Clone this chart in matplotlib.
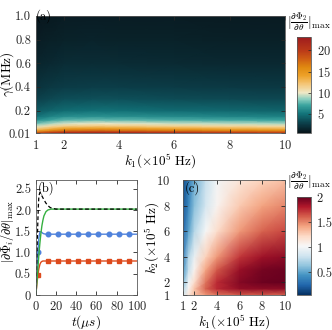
import numpy as np
import matplotlib
matplotlib.use('Agg')
import matplotlib.pyplot as plt
from matplotlib.colors import LinearSegmentedColormap

plt.rcParams['font.family'] = 'cmr10'
plt.rcParams['mathtext.fontset'] = 'cm'
plt.rcParams['axes.formatter.use_mathtext'] = True

# ---- panel (a) data: |dPhi2/dtheta|_max over (k1, gamma)
a_k1 = [1, 1.5, 2, 3, 4, 6, 8, 10]
a_gamma = [0.01, 0.02, 0.035, 0.05, 0.07, 0.09, 0.12, 0.15, 0.2, 0.3, 0.4, 0.6, 0.8, 1.0]
a_vals = [
    [21.0, 22.0, 22.7, 23.0, 23.0, 22.5, 22.0, 21.5],
    [17.0, 18.8, 19.9, 20.5, 20.3, 19.5, 18.9, 18.5],
    [13.6, 15.3, 16.5, 17.0, 16.8, 16.2, 15.6, 15.3],
    [11.6, 13.0, 14.1, 14.5, 14.4, 13.8, 13.3, 13.0],
    [9.6, 10.8, 11.6, 12.0, 11.9, 11.4, 11.0, 10.8],
    [8.0, 9.0, 9.7, 10.0, 9.9, 9.5, 9.2, 9.0],
    [6.2, 7.0, 7.6, 7.8, 7.7, 7.4, 7.2, 7.0],
    [5.0, 5.7, 6.1, 6.3, 6.2, 6.0, 5.8, 5.7],
    [3.9, 4.4, 4.75, 4.9, 4.85, 4.65, 4.5, 4.4],
    [2.8, 3.1, 3.4, 3.5, 3.45, 3.3, 3.2, 3.15],
    [2.1, 2.4, 2.6, 2.7, 2.65, 2.55, 2.5, 2.45],
    [1.4, 1.6, 1.75, 1.8, 1.78, 1.7, 1.65, 1.62],
    [1.0, 1.15, 1.25, 1.3, 1.28, 1.23, 1.2, 1.17],
    [0.7, 0.85, 0.95, 1.0, 0.98, 0.95, 0.92, 0.9],
]

# ---- panel (b) data: time traces
t_black = [0, 0.5, 1, 1.5, 2, 2.5, 3, 4, 5, 6, 8, 10, 12, 14, 16, 18, 20, 100]
y_black = [0, 0.45, 0.9, 1.35, 1.75, 2.1, 2.33, 2.41, 2.38, 2.33, 2.24, 2.16, 2.1, 2.06, 2.04, 2.03, 2.02, 2.02]
t_curve = [0, 1, 2, 3, 4, 5, 6, 7, 8, 10, 12, 15, 20, 100]
y_green = [0, 0.3, 0.62, 0.95, 1.22, 1.45, 1.63, 1.76, 1.86, 1.96, 2.0, 2.02, 2.02, 2.02]
y_blue = [0, 0.55, 1.0, 1.35, 1.48, 1.49, 1.47, 1.45, 1.44, 1.43, 1.43, 1.43, 1.43, 1.43]
y_red = [0, 0.25, 0.47, 0.62, 0.72, 0.77, 0.79, 0.8, 0.8, 0.8, 0.8, 0.8, 0.8, 0.8]
t_mark = [2, 12, 22, 32, 42, 52, 62, 72, 82, 92]
blue_mark = [1.0, 1.43, 1.43, 1.43, 1.43, 1.43, 1.43, 1.43, 1.43, 1.43]
red_mark = [0.47, 0.8, 0.8, 0.8, 0.8, 0.8, 0.8, 0.8, 0.8, 0.8]

# ---- panel (c) data: |dPhi2/dtheta|_max over (k1, k2)
c_k1 = [1, 1.5, 2, 3, 4, 6, 8, 10]
c_k2 = [1, 1.5, 2, 3, 4, 6, 8, 10]
c_vals = [
    [0.85, 1.15, 1.3, 1.45, 1.55, 1.62, 1.62, 1.6],
    [0.75, 1.05, 1.3, 1.6, 1.75, 1.88, 1.9, 1.9],
    [0.6, 1.0, 1.2, 1.55, 1.75, 1.92, 1.98, 2.0],
    [0.45, 0.8, 1.05, 1.4, 1.62, 1.87, 1.96, 1.98],
    [0.35, 0.75, 0.95, 1.25, 1.45, 1.72, 1.85, 1.9],
    [0.25, 0.5, 0.75, 1.02, 1.2, 1.45, 1.6, 1.68],
    [0.2, 0.4, 0.62, 0.85, 1.05, 1.28, 1.42, 1.5],
    [0.15, 0.35, 0.55, 0.8, 1.0, 1.15, 1.25, 1.32],
]

# colormap of panel (a)
a_lo, a_hi = 0.5, 23.2
nodes = [(0.5, '#08141a'), (2.5, '#0b3a45'), (5, '#127379'), (7, '#3aa39e'),
         (8.5, '#8ccfc0'), (10, '#efe8c6'), (12, '#f4c77a'), (14, '#eea22a'),
         (16, '#e08a10'), (18, '#cf5e14'), (20, '#bb3a18'), (23.2, '#9e1b1e')]
cmap_a = LinearSegmentedColormap.from_list(
    'a', [((v - a_lo) / (a_hi - a_lo), c) for v, c in nodes])

spine_c = '0.35'
cb_label = r'$|\frac{\partial\Phi_2}{\partial\theta}|_{\max}$'
TICK = 9
LAB = 9.5


def style(ax, ypad, xpad=4.5):
    ax.tick_params(direction='in', length=3, width=0.6, top=True, right=True,
                   labelsize=TICK, colors='0.15')
    ax.tick_params(axis='x', pad=xpad)
    ax.tick_params(axis='y', pad=ypad)
    for s in ax.spines.values():
        s.set_color(spine_c)
        s.set_linewidth(0.6)


def style_cb(cb):
    cb.ax.tick_params(direction='in', length=2, width=0.5, labelsize=TICK,
                      colors='0.15', pad=4)
    cb.outline.set_edgecolor(spine_c)
    cb.outline.set_linewidth(0.6)


fig = plt.figure(figsize=(3.32, 3.30), dpi=100)

# ---------- (a)
ax = fig.add_axes([0.108, 0.597, 0.750, 0.355])
X, Y = np.meshgrid(a_k1, a_gamma)
pm = ax.pcolormesh(X, Y, np.array(a_vals), cmap=cmap_a, vmin=a_lo, vmax=a_hi,
                   shading='gouraud', rasterized=True)
ax.set_xlim(1, 10)
ax.set_ylim(0.01, 1.0)
ax.set_xticks([1, 2, 4, 6, 8, 10])
ax.set_yticks([0.01, 0.2, 0.4, 0.6, 0.8, 1.0])
ax.set_yticklabels(['0.01', '0.2', '0.4', '0.6', '0.8', '1.0'])
style(ax, 3.5)
ax.set_xlabel(r'$k_1(\times10^5\ \mathrm{Hz})$', fontsize=LAB)
ax.xaxis.set_label_coords(0.5, -0.155)
ax.set_ylabel(r'$\gamma(\mathrm{MHz})$', fontsize=LAB)
ax.yaxis.set_label_coords(-0.078, 0.5)
ax.text(0.0, 1.0, '(a)', transform=ax.transAxes, fontsize=9, va='center', ha='left')

cax = fig.add_axes([0.895, 0.597, 0.042, 0.291])
cb = fig.colorbar(pm, cax=cax)
cb.set_ticks([5, 10, 15, 20])
style_cb(cb)
fig.text(0.864, 0.935, cb_label, fontsize=9.5, ha='left', va='center')

# ---------- (b)
ax = fig.add_axes([0.108, 0.106, 0.304, 0.348])
ax.plot(t_curve, y_red, color='#dd4a1c', lw=1)
ax.plot(t_mark, red_mark, ls='none', marker='s', ms=3, color='#dd4a1c')
ax.plot(t_curve, y_blue, color='#4f82dc', lw=1)
ax.plot(t_mark, blue_mark, ls='none', marker='o', ms=3.3, color='#4f82dc')
ax.plot(t_curve, y_green, color='#35b040', lw=1)
ax.plot(t_black, y_black, color='k', lw=0.9, ls=(0, (3, 2)))
ax.set_xlim(0, 100)
ax.set_ylim(0, 2.7)
ax.set_xticks([0, 20, 40, 60, 80, 100])
ax.set_yticks([0, 0.5, 1.0, 1.5, 2.0, 2.5])
ax.set_yticklabels(['0', '0.5', '1.0', '1.5', '2.0', '2.5'])
style(ax, 3.5, 3.5)
ax.set_xlabel(r'$t(\mu s)$', fontsize=LAB)
ax.xaxis.set_label_coords(0.5, -0.155)
ax.set_ylabel(r'$|\partial\Phi_i/\partial\theta|_{\max}$', fontsize=9)
ax.yaxis.set_label_coords(-0.198, 0.55)
ax.text(0.02, 0.99, '(b)', transform=ax.transAxes, fontsize=9, va='top', ha='left')

# ---------- (c)
ax = fig.add_axes([0.551, 0.106, 0.307, 0.348])
X, Y = np.meshgrid(c_k1, c_k2)
pm = ax.pcolormesh(X, Y, np.array(c_vals), cmap='RdBu_r', vmin=0.05, vmax=2.0,
                   shading='gouraud', rasterized=True)
ax.set_xlim(1, 10)
ax.set_ylim(1, 10)
ax.set_xticks([1, 2, 4, 6, 8, 10])
ax.set_yticks([1, 2, 4, 6, 8, 10])
style(ax, 9, 3.5)
ax.set_xlabel(r'$k_1(\times10^5\ \mathrm{Hz})$', fontsize=LAB)
ax.xaxis.set_label_coords(0.5, -0.152)
ax.set_ylabel(r'$k_2(\times10^5\ \mathrm{Hz})$', fontsize=LAB)
ax.yaxis.set_label_coords(-0.22, 0.5)
ax.text(0.02, 0.99, '(c)', transform=ax.transAxes, fontsize=9, va='top', ha='left')

cax = fig.add_axes([0.895, 0.106, 0.042, 0.297])
cb = fig.colorbar(pm, cax=cax)
cb.set_ticks([0.5, 1, 1.5, 2])
cb.set_ticklabels(['0.5', '1', '1.5', '2'])
style_cb(cb)
fig.text(0.864, 0.452, cb_label, fontsize=9.5, ha='left', va='center')

fig.savefig('out.png', dpi=100)
